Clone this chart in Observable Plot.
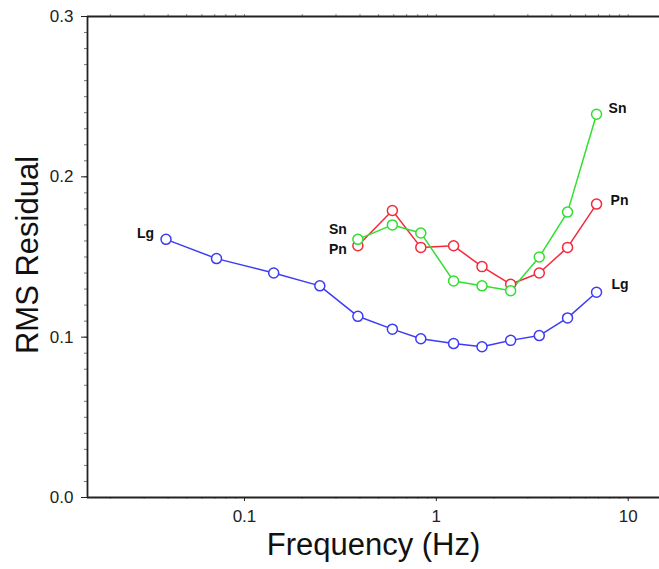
<!DOCTYPE html>
<html>
<head>
<meta charset="utf-8">
<script src="https://cdn.jsdelivr.net/npm/d3@7"></script>
<script src="https://cdn.jsdelivr.net/npm/@observablehq/plot@0.6"></script>
<style>
  html, body { margin: 0; padding: 0; background: #fff; }
  #chart svg { display: block; }
</style>
</head>
<body>
<div id="chart"></div>
<script>
// ---- data ----
const seriesNames = ["Lg", "Pn", "Sn"];
const seriesColors = ["#3c3cf4", "#f5283c", "#2fe02f"];

const lgFreq = [0.039, 0.0715, 0.142, 0.247, 0.39, 0.59, 0.83, 1.23, 1.73, 2.44, 3.44, 4.83, 6.84];
const lgRms  = [0.161, 0.149, 0.140, 0.132, 0.113, 0.105, 0.099, 0.096, 0.094, 0.098, 0.101, 0.112, 0.128];

const pnFreq = [0.39, 0.59, 0.83, 1.23, 1.73, 2.44, 3.44, 4.83, 6.84];
const pnRms  = [0.157, 0.179, 0.156, 0.157, 0.144, 0.133, 0.140, 0.156, 0.183];

const snFreq = [0.39, 0.59, 0.83, 1.23, 1.73, 2.44, 3.44, 4.83, 6.84];
const snRms  = [0.161, 0.170, 0.165, 0.135, 0.132, 0.129, 0.150, 0.178, 0.239];

const xDomain = [0.0152, 14.56];
const yDomain = [0, 0.3];
const xTicks = [0.1, 1, 10];
const yTicks = [0, 0.1, 0.2, 0.3];
const yMinorTicks = d3.range(0, 0.3001, 0.01);
const xMinorTicks = [0.02,0.03,0.04,0.05,0.06,0.07,0.08,0.09,0.1,0.2,0.3,0.4,0.5,0.6,0.7,0.8,0.9,1,2,3,4,5,6,7,8,9,10];

const xLabel = "Frequency (Hz)";
const yLabel = "RMS Residual";

// ---- table ----
const rows = [
  ...lgFreq.map((f, i) => ({series: "Lg", freq: f, rms: lgRms[i]})),
  ...pnFreq.map((f, i) => ({series: "Pn", freq: f, rms: pnRms[i]})),
  ...snFreq.map((f, i) => ({series: "Sn", freq: f, rms: snRms[i]}))
];
const of = (s) => rows.filter(d => d.series === s);

const font = "'Liberation Sans', Arial, Helvetica, sans-serif";
const labelStyle = {x: "freq", y: "rms", text: "series", fontSize: 14, fontWeight: "bold", fill: "#111"};

const chart = Plot.plot({
  width: 659,
  height: 569,
  marginLeft: 87,
  marginRight: 0,
  marginTop: 16,
  marginBottom: 72,
  style: {fontFamily: font, background: "#fff", color: "#222"},
  x: {type: "log", domain: xDomain},
  y: {domain: yDomain},
  color: {domain: seriesNames, range: seriesColors},
  marks: [
    // minor ticks
    Plot.axisY(yMinorTicks, {tickSize: 3, tickFormat: () => "", label: null, stroke: "#777"}),
    Plot.axisX(xMinorTicks, {anchor: "bottom", tickSize: 2, tickFormat: () => "", label: null, stroke: "#999"}),
    Plot.axisX(xMinorTicks, {anchor: "top", tickSize: 3, tickFormat: () => "", label: null, stroke: "#888"}),
    // major ticks
    Plot.axisY(yTicks, {tickSize: 6, tickPadding: 8, tickFormat: d => d.toFixed(1), label: null, fontSize: 17, fill: "#222"}),
    Plot.axisX(xTicks, {anchor: "bottom", tickSize: 4, tickPadding: 8, tickFormat: d => String(d), label: null, fontSize: 17, fill: "#222"}),
    // frame
    Plot.ruleY(yDomain, {stroke: "#222", strokeWidth: 1.8}),
    Plot.ruleX([xDomain[0]], {stroke: "#222", strokeWidth: 1.8}),
    // series
    Plot.line(rows, {x: "freq", y: "rms", z: "series", stroke: "series", strokeWidth: 1.5}),
    Plot.dot(rows, {x: "freq", y: "rms", stroke: "series", fill: "white", r: 5, strokeWidth: 1.5}),
    // series labels
    Plot.text(of("Lg"), Plot.selectFirst({...labelStyle, textAnchor: "end", dx: -12, dy: -6})),
    Plot.text(of("Sn"), Plot.selectFirst({...labelStyle, textAnchor: "end", dx: -11, dy: -10})),
    Plot.text(of("Pn"), Plot.selectFirst({...labelStyle, textAnchor: "end", dx: -11, dy: 4})),
    Plot.text(of("Sn"), Plot.selectLast({...labelStyle, textAnchor: "start", dx: 12, dy: -6})),
    Plot.text(of("Pn"), Plot.selectLast({...labelStyle, textAnchor: "start", dx: 14, dy: -4})),
    Plot.text(of("Lg"), Plot.selectLast({...labelStyle, textAnchor: "start", dx: 15, dy: -8})),
    // axis titles
    Plot.text([yLabel], {frameAnchor: "left", textAnchor: "middle", lineAnchor: "middle", dx: -59, dy: -2, rotate: -90, fontSize: 31, fill: "#111"}),
    Plot.text([xLabel], {frameAnchor: "bottom", dy: 57, fontSize: 31, fill: "#111"})
  ]
});
document.getElementById("chart").append(chart);
</script>
</body>
</html>
